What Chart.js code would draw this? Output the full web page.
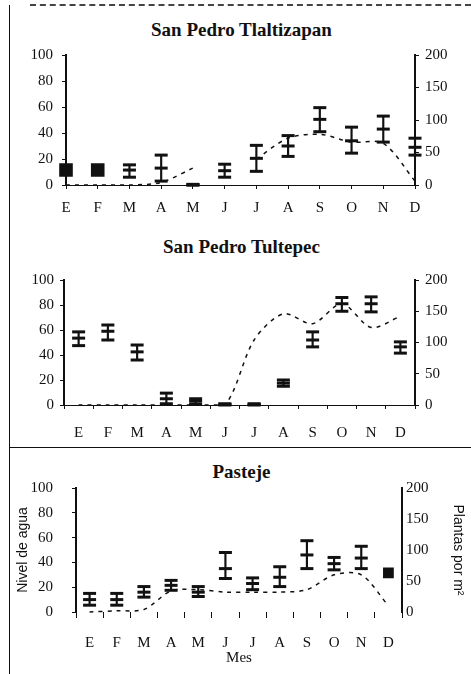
<!DOCTYPE html>
<html lang="es">
<head>
<meta charset="utf-8">
<title>Nivel de agua y plantas por m²</title>
<script src="https://cdn.jsdelivr.net/npm/chart.js@4.4.1/dist/chart.umd.min.js"></script>
<style>
  body { margin: 0; background: #fff; }
  #lamina {
    position: relative;
    width: 471px;
    height: 674px;
    overflow: hidden;
    background: #fff;
    font-family: "Liberation Serif", "DejaVu Serif", serif;
    color: #111;
  }
  .panel { position: absolute; left: 0; width: 471px; }
  .titulo {
    position: absolute;
    left: 6px;
    width: 471px;
    text-align: center;
    font-weight: bold;
    font-size: 19px;
    line-height: 20px;
  }
  #marco { position: absolute; left: 9px; top: 5px; height: 669px; border-left: 1.5px solid #111; }
  #raya-sup { position: absolute; left: 30px; top: 4px; width: 441px; border-top: 2px dashed #444; }
  #separador { position: absolute; left: 9px; top: 447px; width: 462px; border-top: 1.5px solid #111; }
</style>
</head>
<body>
<div id="lamina">
  <div id="marco"></div>
  <div id="raya-sup"></div>
  <div id="separador"></div>

  <div class="titulo" style="top:20px">San Pedro Tlaltizapan</div>
  <div class="panel" style="top:0;height:225px"><canvas id="tlaltizapan"></canvas></div>

  <div class="titulo" style="top:237px">San Pedro Tultepec</div>
  <div class="panel" style="top:225px;height:225px"><canvas id="tultepec"></canvas></div>

  <div class="titulo" style="top:462px">Pasteje</div>
  <div class="panel" style="top:460px;height:214px"><canvas id="pasteje"></canvas></div>
</div>

<script>
const meses = ["E", "F", "M", "A", "M", "J", "J", "A", "S", "O", "N", "D"];
const ticksAgua = [0, 20, 40, 60, 80, 100];
const ticksPlantas = [0, 50, 100, 150, 200];

// San Pedro Tlaltizapan
const tlalAgua = [0, 0, 0, 2, 13, null, 20, 36, 39, 33, 32, 3];
const tlalMedia = [23, 23, 23, 26, 0, 22, 41, 60, 101, 68, 86, 58];
const tlalMin = [23, 23, 12, 6, 0, 12, 21, 44, 82, 49, 66, 46];
const tlalMax = [23, 23, 31, 46, 1, 32, 61, 76, 119, 89, 106, 72];

// San Pedro Tultepec
const tultAgua = [0, 0, 0, 0, 0, 0, 52, 73, 65, 81, 62, 71];
const tultMedia = [107, 118, 85, 10, 6, 1, 1, 35, 104, 162, 162, 93];
const tultMin = [95, 104, 72, 2, 1, 0, 0, 30, 93, 150, 149, 83];
const tultMax = [117, 128, 96, 19, 10, 2, 2, 40, 117, 172, 173, 101];

// Pasteje
const pastAgua = [0, 1, 2, 17, 18, 16, 16, 16, 18, 30, 30, 5];
const pastMedia = [20, 20, 32, 43, 32, 70, 46, 56, 92, 78, 87, 63];
const pastMin = [11, 11, 24, 35, 25, 54, 36, 41, 70, 68, 70, 63];
const pastMax = [30, 30, 41, 51, 41, 96, 55, 73, 115, 88, 106, 63];

const serif = "'Liberation Serif', 'DejaVu Serif', serif";
Chart.defaults.font.family = serif;
Chart.defaults.color = "#111";

const negro = "#111";
const fuente = { family: serif, size: 15 };
const fuenteEje = { family: "'Liberation Sans', Arial, sans-serif", size: 14 };

function panel(id, agua, media, min, max, cfg) {
  const sinError = (i) => min[i] === max[i];
  const bigotes = media.map((_, i) => [min[i], max[i]]);

  return new Chart(document.getElementById(id), {
    type: "bar",
    data: {
      labels: meses,
      datasets: [
        {
          type: "line",
          label: "Nivel de agua",
          data: agua,
          yAxisID: "y",
          borderColor: negro,
          borderWidth: 1.5,
          borderDash: [4, 5],
          pointRadius: 0,
          tension: 0.3,
          spanGaps: false,
          clip: false,
        },
        {
          label: "Error",
          data: bigotes,
          yAxisID: "y1",
          backgroundColor: negro,
          barThickness: 1.5,
          clip: false,
        },
        {
          type: "line",
          label: "Máximo",
          data: max,
          yAxisID: "y1",
          showLine: false,
          pointStyle: "line",
          pointRadius: (ctx) => (sinError(ctx.dataIndex) ? 0 : 6.5),
          pointBorderWidth: 3,
          pointBorderColor: negro,
          clip: false,
        },
        {
          type: "line",
          label: "Mínimo",
          data: min,
          yAxisID: "y1",
          showLine: false,
          pointStyle: "line",
          pointRadius: (ctx) => (sinError(ctx.dataIndex) ? 0 : 6.5),
          pointBorderWidth: 3,
          pointBorderColor: negro,
          clip: false,
        },
        {
          type: "line",
          label: "Plantas por m²",
          data: media,
          yAxisID: "y1",
          showLine: false,
          pointStyle: (ctx) => (sinError(ctx.dataIndex) ? "rect" : "line"),
          pointRadius: (ctx) => (sinError(ctx.dataIndex) ? cfg.cuadro : 6.5),
          pointBorderWidth: 3,
          pointBorderColor: negro,
          pointBackgroundColor: negro,
          clip: false,
        },
      ],
    },
    options: {
      responsive: true,
      maintainAspectRatio: false,
      animation: false,
      layout: { padding: { top: cfg.arriba, left: 0, right: 0, bottom: 0 } },
      plugins: {
        legend: { display: false },
        tooltip: { enabled: false },
      },
      scales: {
        x: {
          type: "category",
          offset: cfg.offset,
          grid: {
            offset: cfg.offset,
            drawOnChartArea: false,
            tickLength: cfg.tickX,
            color: negro,
          },
          border: { display: cfg.ejeX, dash: [3, 4], color: negro, width: 1 },
          ticks: { padding: cfg.padX, font: fuente, maxRotation: 0, autoSkip: false },
          title: {
            display: !!cfg.tituloX,
            text: cfg.tituloX || "",
            font: fuente,
            padding: { top: 0, bottom: 7 },
          },
          afterFit: (s) => { s.height = cfg.altoX; },
        },
        y: {
          position: "left",
          min: ticksAgua[0],
          max: ticksAgua[ticksAgua.length - 1],
          ticks: { stepSize: ticksAgua[1] - ticksAgua[0], padding: cfg.padY, font: fuente },
          grid: { drawOnChartArea: false, tickLength: 4, color: negro },
          border: { color: negro, width: 2 },
          title: {
            display: !!cfg.tituloY,
            text: cfg.tituloY || "",
            font: fuenteEje,
            padding: { top: 15, bottom: 0 },
          },
          afterFit: (s) => { s.width = cfg.anchoY; },
        },
        y1: {
          position: "right",
          min: ticksPlantas[0],
          max: ticksPlantas[ticksPlantas.length - 1],
          ticks: { stepSize: ticksPlantas[1] - ticksPlantas[0], padding: cfg.padY1, font: fuente },
          grid: { drawOnChartArea: false, tickLength: cfg.tickY1, color: negro },
          border: { color: negro, width: 2 },
          title: {
            display: !!cfg.tituloY1,
            text: cfg.tituloY1 || "",
            font: fuenteEje,
            padding: { top: 5, bottom: 0 },
          },
          afterFit: (s) => { s.width = cfg.anchoY1; },
        },
      },
    },
  });
}

panel("tlaltizapan", tlalAgua, tlalMedia, tlalMin, tlalMax, {
  arriba: 55, altoX: 40, anchoY: 66, anchoY1: 56,
  offset: false, ejeX: true, tickX: 4, padX: 10,
  padY: 9, padY1: 6, tickY1: 4, cuadro: 7.5,
});

panel("tultepec", tultAgua, tultMedia, tultMin, tultMax, {
  arriba: 55, altoX: 45, anchoY: 64, anchoY1: 56,
  offset: true, ejeX: true, tickX: 4, padX: 15,
  padY: 6, padY1: 6, tickY1: 4, cuadro: 7.5,
});

panel("pasteje", pastAgua, pastMedia, pastMin, pastMax, {
  arriba: 23, altoX: 62, anchoY: 76, anchoY1: 69,
  offset: true, ejeX: false, tickX: 6, padX: 16,
  padY: 19, padY1: 4, tickY1: 0, cuadro: 5.5,
  tituloX: "Mes", tituloY: "Nivel de agua", tituloY1: "Plantas por m²",
});
</script>
</body>
</html>
